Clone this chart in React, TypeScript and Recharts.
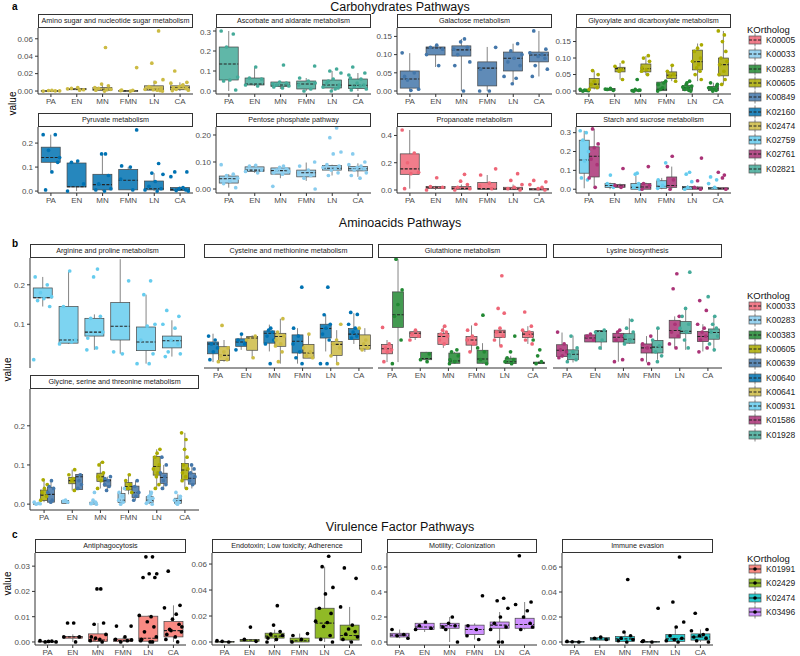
import React from "react";
import { ComposedChart, Bar, Scatter, XAxis, YAxis } from "recharts";

// box stats per group: [lower whisker, q1, median, q3, upper whisker]
const GROUPS = ["PA", "EN", "MN", "FMN", "LN", "CA"];

const PAL10 = ["#EE6677", "#88CCEE", "#228833", "#AAAA00", "#4477AA", "#0072B2", "#CCBB44", "#66CCEE", "#AA3377", "#44AA99"];
const PAL4 = ["#F8766D", "#7CAE00", "#00BFC4", "#C77CFF"];

const KO_A = ["K00005", "K00033", "K00283", "K00605", "K00849", "K02160", "K02474", "K02759", "K02761", "K02821"];
const KO_B = ["K00033", "K00283", "K00383", "K00605", "K00639", "K00640", "K00641", "K00931", "K01586", "K01928"];
const KO_C = ["K01991", "K02429", "K02474", "K03496"];

// ---- a: Carbohydrates ----
const aminoSugar_K02474 = [[0, 0, 0.0002, 0.0005, 0.001], [0.001, 0.0015, 0.002, 0.003, 0.004], [0, 0.0008, 0.002, 0.004, 0.008], [0, 0, 0.0002, 0.0006, 0.001], [0, 0.001, 0.002, 0.006, 0.012], [0, 0.0015, 0.004, 0.006, 0.01]];
const aminoSugarPts_K02474 = [[0, 0.0003, 0.0006, 0.0002, 0.0008], [0.004, 0.003, 0.0015, 0.0025, 0.001], [0.05, 0.008, 0.006, 0.003, 0.002, 0.001, 0, 0.004, 0.0015], [0.027, 0.001, 0, 0.0005, 0.0008], [0.069, 0.032, 0.013, 0.01, 0.005, 0.003, 0.002, 0.001, 0.0015, 0.0005, 0.004, 0], [0.023, 0.01, 0.009, 0.007, 0.005, 0.003, 0.002, 0.001, 0.004, 0.006, 0.0005]];

const ascorbate_K02821 = [[0, 0.055, 0.135, 0.22, 0.3], [0.025, 0.03, 0.035, 0.065, 0.115], [0.01, 0.022, 0.03, 0.045, 0.05], [0, 0.01, 0.035, 0.05, 0.065], [0, 0.015, 0.03, 0.055, 0.1], [0, 0.012, 0.028, 0.06, 0.09]];
const ascorbatePts_K02821 = [[0.3, 0.285, 0.22, 0.07, 0.055, 0.05, 0.005], [0.12, 0.065, 0.06, 0.03, 0.025], [0.13, 0.045, 0.04, 0.03, 0.025, 0.02, 0.015, 0.035], [0.125, 0.065, 0.05, 0.03, 0.01, 0, 0.04], [0.11, 0.1, 0.09, 0.06, 0.04, 0.03, 0.02, 0.01, 0, 0.015, 0.05], [0.12, 0.09, 0.08, 0.06, 0.04, 0.03, 0.02, 0.01, 0.005, 0.025, 0.065]];

const galactose_K00849 = [[0.002, 0.008, 0.033, 0.055, 0.104], [0.066, 0.099, 0.118, 0.121, 0.126], [0, 0.096, 0.113, 0.124, 0.143], [0, 0.014, 0.063, 0.08, 0.121], [0.02, 0.055, 0.09, 0.107, 0.13], [0.04, 0.08, 0.099, 0.107, 0.165]];
const galactosePts_K00849 = [[0.105, 0.05, 0.03, 0.005, 0.002, 0.04], [0.126, 0.12, 0.115, 0.1, 0.07], [0.143, 0.135, 0.12, 0.1, 0.08, 0.07, 0, 0.115], [0.12, 0.06, 0, 0], [0.13, 0.11, 0.1, 0.09, 0.08, 0.07, 0.04, 0.035, 0.02], [0.165, 0.115, 0.105, 0.1, 0.095, 0.09, 0.07, 0.06, 0.04]];

const glyoxylate_K00283 = [[0, 0, 0.0005, 0.002, 0.003], [0.001, 0.002, 0.005, 0.008, 0.009], [0, 0, 0.001, 0.004, 0.005], [0, 0.001, 0.005, 0.027, 0.03], [0, 0.002, 0.01, 0.017, 0.03], [0, 0.001, 0.007, 0.014, 0.025]];
const glyoxylatePts_K00283 = [[0.005, 0.002, 0, 0.001, 0.003], [0.008, 0.005, 0.002, 0.006], [0.035, 0.005, 0.002, 0, 0.003, 0.001], [0.03, 0.02, 0.01, 0, 0.025, 0.005], [0.03, 0.02, 0.015, 0.01, 0.005, 0, 0.012, 0.002, 0.025], [0.025, 0.015, 0.01, 0.005, 0, 0.002, 0.008, 0.02]];
const glyoxylate_K00605 = [[0.005, 0.009, 0.021, 0.038, 0.061], [0.035, 0.058, 0.068, 0.072, 0.085], [0.048, 0.058, 0.068, 0.082, 0.106], [0.03, 0.038, 0.048, 0.058, 0.079], [0.03, 0.064, 0.089, 0.124, 0.144], [0.02, 0.046, 0.08, 0.1, 0.182]];
const glyoxylatePts_K00605 = [[0.062, 0.05, 0.03, 0.02, 0.01, 0.005], [0.088, 0.075, 0.065, 0.06, 0.035], [0.107, 0.1, 0.09, 0.07, 0.065, 0.06, 0.05], [0.078, 0.06, 0.05, 0.045, 0.03], [0.14, 0.13, 0.12, 0.1, 0.09, 0.08, 0.07, 0.06, 0.05, 0.035], [0.182, 0.17, 0.15, 0.12, 0.1, 0.09, 0.08, 0.06, 0.05, 0.035, 0.02]];

const pyruvate_K02160 = [[0.085, 0.12, 0.14, 0.183, 0.235], [0, 0.017, 0.018, 0.117, 0.125], [0, 0.005, 0.027, 0.07, 0.157], [0.005, 0.005, 0.045, 0.09, 0.1], [0, 0.005, 0.01, 0.042, 0.075], [0, 0.002, 0.007, 0.015, 0.02]];
const pyruvatePts_K02160 = [[0.235, 0.235, 0.17, 0.14, 0.08, 0.005, 0.12], [0.125, 0.12, 0.03, 0], [0.155, 0.155, 0.065, 0.03, 0.01, 0.005, 0], [0.255, 0.105, 0.1, 0.05, 0.005], [0.115, 0.075, 0.07, 0.04, 0.02, 0.01, 0.005, 0], [0.08, 0.08, 0.06, 0.015, 0.01, 0.005, 0.002, 0]];

const pentose_K00033 = [[0.005, 0.022, 0.038, 0.048, 0.055], [0.06, 0.065, 0.07, 0.082, 0.088], [0.04, 0.055, 0.068, 0.078, 0.085], [0.03, 0.045, 0.06, 0.07, 0.098], [0.05, 0.07, 0.077, 0.087, 0.09], [0.045, 0.067, 0.075, 0.083, 0.095]];
const pentosePts_K00033 = [[0.09, 0.055, 0.05, 0.04, 0.03, 0.02, 0.005], [0.088, 0.085, 0.07, 0.065, 0.06], [0.085, 0.08, 0.075, 0.07, 0.065, 0.06, 0.055, 0.01], [0.1, 0.085, 0.07, 0.06, 0.05, 0.04, 0], [0.226, 0.19, 0.137, 0.13, 0.09, 0.085, 0.08, 0.075, 0.07, 0.06, 0.05], [0.13, 0.1, 0.09, 0.085, 0.08, 0.075, 0.07, 0.06, 0.05, 0.04]];

const propanoate_K00005 = [[0.01, 0.115, 0.155, 0.265, 0.44], [0, 0.01, 0.02, 0.025, 0.03], [0, 0.005, 0.012, 0.025, 0.04], [0, 0.005, 0.01, 0.055, 0.11], [0, 0.002, 0.008, 0.02, 0.04], [0, 0, 0.005, 0.01, 0.02]];
const propanoatePts_K00005 = [[0.44, 0.27, 0.2, 0.13, 0.12, 0.01], [0.09, 0.025, 0.02, 0], [0.115, 0.065, 0.04, 0.02, 0.01, 0], [0.155, 0.11, 0.05, 0.03, 0.01], [0.12, 0.07, 0.04, 0.02, 0.01, 0], [0.07, 0.06, 0.04, 0.02, 0.01, 0]];

const starch_K02759 = [[0.005, 0.085, 0.155, 0.26, 0.31], [0, 0.01, 0.02, 0.03, 0.035], [0, 0, 0.01, 0.03, 0.07], [0, 0.005, 0.015, 0.045, 0.06], [0, 0, 0.01, 0.015, 0.02], [0, 0, 0.005, 0.01, 0.015]];
const starchPts_K02759 = [[0.31, 0.3, 0.26, 0.2, 0.15, 0.06, 0.05], [0.075, 0.03, 0.01], [0.085, 0.08, 0.03, 0.01, 0], [0.14, 0.05, 0.02, 0.005], [0.09, 0.08, 0.04, 0.01, 0], [0.065, 0.05, 0.03, 0.01]];
const starch_K02761 = [[0.01, 0.065, 0.175, 0.225, 0.32], [0.005, 0.01, 0.018, 0.025, 0.03], [0, 0, 0.012, 0.03, 0.035], [0, 0.01, 0.02, 0.065, 0.12], [0, 0, 0.005, 0.012, 0.015], [0, 0, 0.003, 0.008, 0.01]];
const starchPts_K02761 = [[0.32, 0.24, 0.22, 0.16, 0.13, 0.06, 0.01], [0.11, 0.02, 0.01], [0.12, 0.03, 0.02, 0], [0.175, 0.12, 0.05, 0], [0.165, 0.045, 0.01, 0], [0.09, 0.075, 0.06, 0]];

// ---- b: Aminoacids ----
const arginine_K00931 = [[0.145, 0.167, 0.167, 0.192, 0.22], [0.05, 0.052, 0.06, 0.145, 0.233], [0.035, 0.07, 0.08, 0.115, 0.125], [0.025, 0.06, 0.095, 0.155, 0.265], [0, 0.033, 0.055, 0.093, 0.175], [0.018, 0.04, 0.058, 0.07, 0.11]];
const argininePts_K00931 = [[0.22, 0.2, 0.18, 0.17, 0.165, 0.16, 0.145, 0.01], [0.235, 0.145, 0.06, 0.05, 0.055], [0.24, 0.22, 0.12, 0.115, 0.08, 0.065, 0.04, 0.035], [0.21, 0.03, 0.025], [0.21, 0.175, 0.1, 0.095, 0.06, 0.025, 0, 0], [0.135, 0.12, 0.1, 0.09, 0.06, 0.05, 0.03, 0.025, 0.018]];

const cysteine_K00640 = [[0.004, 0.025, 0.05, 0.055, 0.076], [0.035, 0.044, 0.055, 0.063, 0.075], [0.031, 0.052, 0.077, 0.083, 0.099], [0, 0.027, 0.057, 0.073, 0.09], [0.031, 0.065, 0.089, 0.1, 0.124], [0.05, 0.061, 0.075, 0.089, 0.128]];
const cysteinePts_K00640 = [[0.07, 0.06, 0.05, 0.04, 0.03, 0.01], [0.075, 0.06, 0.05, 0.035], [0.09, 0.085, 0.08, 0.07, 0.06, 0.05, 0], [0.194, 0.09, 0.07, 0.05, 0.03, 0.015, 0], [0.194, 0.124, 0.1, 0.09, 0.075, 0.06, 0, 0], [0.13, 0.125, 0.1, 0.09, 0.08, 0.07, 0.065]];
const cysteine_K00641 = [[0.005, 0.008, 0.021, 0.043, 0.06], [0.014, 0.034, 0.065, 0.069, 0.072], [0, 0.044, 0.069, 0.077, 0.114], [0.014, 0.014, 0.027, 0.049, 0.073], [0, 0.021, 0.049, 0.056, 0.085], [0.03, 0.037, 0.046, 0.073, 0.09]];
const cysteinePts_K00641 = [[0.097, 0.04, 0.03, 0.02, 0.01, 0.005], [0.07, 0.06, 0.015], [0.114, 0.08, 0.07, 0.06, 0.05, 0.045, 0.03, 0.005], [0.075, 0.04, 0.03, 0.02, 0.015], [0.1, 0.06, 0.05, 0.04, 0.02, 0], [0.09, 0.06, 0.05, 0.04, 0.035]];

const glutathione_K00033 = [[0.004, 0.025, 0.038, 0.049, 0.06], [0.06, 0.066, 0.077, 0.081, 0.085], [0.04, 0.049, 0.069, 0.077, 0.097], [0.03, 0.047, 0.06, 0.069, 0.097], [0.045, 0.066, 0.08, 0.085, 0.09], [0.05, 0.066, 0.075, 0.081, 0.095]];
const glutathionePts_K00033 = [[0.092, 0.05, 0.04, 0.035, 0.03, 0.005], [0.085, 0.075, 0.07, 0.06], [0.095, 0.085, 0.08, 0.075, 0.07, 0.06, 0.05], [0.1, 0.085, 0.07, 0.06, 0.05, 0.03], [0.223, 0.14, 0.128, 0.09, 0.08, 0.07, 0.06, 0.045], [0.131, 0.095, 0.085, 0.08, 0.075, 0.07, 0.06, 0.05]];
const glutathione_K00383 = [[0.004, 0.092, 0.124, 0.182, 0.265], [0.005, 0.01, 0.013, 0.029, 0.03], [0, 0.001, 0.007, 0.027, 0.03], [0, 0.001, 0.012, 0.034, 0.052], [0, 0, 0.005, 0.014, 0.02], [0, 0, 0.002, 0.004, 0.006]];
const glutathionePts_K00383 = [[0.265, 0.187, 0.15, 0.12, 0.06, 0], [0.025, 0.01, 0.005], [0.035, 0.03, 0.02, 0.01, 0.005, 0], [0.123, 0.04, 0.03, 0.01, 0], [0.07, 0.03, 0.015, 0.01, 0.005, 0], [0.06, 0.035, 0.02, 0.005, 0]];

const lysine_K01586 = [[0.015, 0.018, 0.034, 0.048, 0.079], [0.055, 0.055, 0.065, 0.073, 0.075], [0.005, 0.055, 0.067, 0.077, 0.085], [0.003, 0.027, 0.04, 0.05, 0.07], [0.04, 0.065, 0.084, 0.11, 0.12], [0.031, 0.056, 0.069, 0.082, 0.1]];
const lysinePts_K01586 = [[0.08, 0.05, 0.035, 0.03, 0.02, 0.015], [0.075, 0.07, 0.06], [0.085, 0.08, 0.07, 0.06, 0.01, 0.005], [0.07, 0.05, 0.04, 0.01, 0], [0.228, 0.19, 0.12, 0.1, 0.08, 0.07, 0.05, 0.04], [0.16, 0.135, 0.1, 0.09, 0.08, 0.07, 0.06, 0.04, 0.03]];
const lysine_K01928 = [[0.003, 0.01, 0.024, 0.035, 0.071], [0.035, 0.055, 0.082, 0.084, 0.085], [0.05, 0.052, 0.062, 0.076, 0.115], [0.01, 0.027, 0.042, 0.059, 0.09], [0.035, 0.076, 0.082, 0.107, 0.136], [0.031, 0.062, 0.079, 0.088, 0.12]];
const lysinePts_K01928 = [[0.07, 0.04, 0.03, 0.02, 0.01, 0.005], [0.085, 0.08, 0.06, 0.04], [0.11, 0.09, 0.08, 0.07, 0.06, 0.05], [0.09, 0.06, 0.045, 0.03, 0.02, 0.005], [0.232, 0.14, 0.12, 0.1, 0.09, 0.08, 0.06, 0.04], [0.17, 0.12, 0.1, 0.09, 0.08, 0.07, 0.05, 0.035]];

const glycine_K00283 = [[0, 0, 0.001, 0.002, 0.003], [0.002, 0.002, 0.007, 0.009, 0.01], [0, 0, 0.002, 0.005, 0.008], [0, 0.004, 0.01, 0.027, 0.045], [0, 0.004, 0.01, 0.019, 0.035], [0, 0.002, 0.009, 0.015, 0.025]];
const glycinePts_K00283 = [[0.005, 0.002, 0, 0.001], [0.01, 0.008, 0.005], [0.03, 0.01, 0.005, 0.002, 0, 0.001], [0.04, 0.03, 0.02, 0.01, 0.005, 0], [0.03, 0.02, 0.015, 0.01, 0.005, 0, 0.002, 0.025], [0.03, 0.02, 0.01, 0.005, 0, 0.015, 0.002]];
const glycine_K00605 = [[0.005, 0.009, 0.023, 0.036, 0.063], [0.035, 0.052, 0.06, 0.068, 0.088], [0.04, 0.058, 0.07, 0.079, 0.108], [0.025, 0.036, 0.045, 0.055, 0.075], [0.04, 0.074, 0.096, 0.122, 0.14], [0.04, 0.062, 0.087, 0.104, 0.182]];
const glycinePts_K00605 = [[0.062, 0.05, 0.04, 0.03, 0.02, 0.01], [0.088, 0.075, 0.065, 0.06, 0.035], [0.107, 0.1, 0.08, 0.07, 0.06, 0.04], [0.075, 0.06, 0.05, 0.04, 0.03], [0.14, 0.13, 0.12, 0.1, 0.09, 0.08, 0.07, 0.05, 0.04], [0.182, 0.165, 0.14, 0.12, 0.1, 0.09, 0.08, 0.07, 0.06, 0.04]];
const glycine_K00639 = [[0.004, 0.005, 0.025, 0.043, 0.062], [0.037, 0.037, 0.07, 0.076, 0.078], [0.035, 0.046, 0.06, 0.063, 0.07], [0.01, 0.017, 0.029, 0.046, 0.06], [0.036, 0.053, 0.068, 0.079, 0.1], [0.04, 0.051, 0.066, 0.079, 0.1]];
const glycinePts_K00639 = [[0.06, 0.045, 0.04, 0.03, 0.01, 0.005], [0.075, 0.06, 0.05, 0.04], [0.07, 0.065, 0.06, 0.05, 0.045, 0.035], [0.06, 0.045, 0.03, 0.02, 0.01], [0.12, 0.1, 0.08, 0.07, 0.06, 0.05, 0.04], [0.1, 0.09, 0.08, 0.07, 0.06, 0.05]];

// ---- c: Virulence ----
const antiphago_K01991 = [[0, 0, 0.0001, 0.0003, 0.0005], [0, 0.0015, 0.002, 0.0022, 0.003], [0, 0.0002, 0.0008, 0.0032, 0.0075], [0, 0.0002, 0.0006, 0.0012, 0.002], [0, 0.0003, 0.0015, 0.0102, 0.0105], [0, 0.002, 0.0045, 0.0081, 0.0145]];
const antiphagoPts_K01991 = [[0.0005, 0.0003, 0, 0, 0.0002], [0.0075, 0.0075, 0.002, 0.002, 0], [0.021, 0.021, 0.0075, 0.007, 0.003, 0.002, 0.001, 0.0005, 0, 0.0015], [0.0063, 0.0063, 0.002, 0.001, 0.0005, 0, 0.0008], [0.0337, 0.0337, 0.027, 0.027, 0.0255, 0.0255, 0.0105, 0.01, 0.008, 0.006, 0.004, 0.002, 0.001, 0, 0.0005, 0], [0.028, 0.0145, 0.0135, 0.011, 0.009, 0.007, 0.005, 0.004, 0.003, 0.002, 0.001, 0, 0.0045, 0.006]];

const endotoxin_K02429 = [[0, 0, 0.0002, 0.0005, 0.001], [0.0005, 0.0005, 0.0015, 0.002, 0.0022], [0, 0.003, 0.0045, 0.0068, 0.0095], [0, 0, 0.001, 0.003, 0.0065], [0, 0.003, 0.0145, 0.026, 0.058], [0, 0.0015, 0.005, 0.013, 0.027]];
const endotoxinPts_K02429 = [[0.001, 0, 0.0005], [0.0115, 0.002, 0.0005], [0.028, 0.013, 0.008, 0.006, 0.005, 0.003, 0.002, 0], [0.0065, 0.005, 0.002, 0], [0.066, 0.058, 0.042, 0.037, 0.026, 0.022, 0.016, 0.015, 0.012, 0.005, 0.002, 0], [0.057, 0.049, 0.027, 0.013, 0.01, 0.008, 0.006, 0.004, 0.002, 0]];

const motility_K03496 = [[0.03, 0.04, 0.055, 0.07, 0.1], [0.08, 0.1, 0.12, 0.15, 0.16], [0, 0.11, 0.13, 0.15, 0.2], [0.02, 0.06, 0.1, 0.135, 0.15], [0, 0.11, 0.135, 0.16, 0.24], [0.1, 0.11, 0.14, 0.19, 0.32]];
const motilityPts_K03496 = [[0.1, 0.06, 0.05, 0.03], [0.16, 0.13, 0.11, 0.1], [0.2, 0.15, 0.13, 0.1, 0, 0.12], [0.37, 0.13, 0.1, 0.05, 0.02], [0.35, 0.33, 0.27, 0.2, 0.15, 0.12, 0.1, 0, 0], [0.69, 0.32, 0.3, 0.25, 0.2, 0.15, 0.1, 0.12]];

const immune_K02474 = [[0, 0, 0.0002, 0.0005, 0.001], [0.0015, 0.0015, 0.0025, 0.0035, 0.004], [0, 0.0005, 0.0025, 0.0045, 0.008], [0, 0, 0.0002, 0.0005, 0.001], [0, 0.0005, 0.0025, 0.006, 0.012], [0, 0.0015, 0.004, 0.0065, 0.01]];
const immunePts_K02474 = [[0.0005, 0, 0.0002], [0.004, 0.003, 0.002], [0.05, 0.008, 0.005, 0.003, 0.002, 0.001, 0], [0.027, 0.001, 0, 0.0005], [0.068, 0.032, 0.016, 0.012, 0.005, 0.003, 0.001, 0, 0.002], [0.023, 0.01, 0.009, 0.006, 0.005, 0.003, 0.001, 0, 0.004]];

const JIT = [-0.8, 0.45, -0.25, 0.9, 0.1, -0.55, 0.7, -0.95, 0.3, -0.1, 0.6, -0.4, 0.85, -0.7, 0.2];
const FONT = "'Liberation Sans', Arial, Helvetica, sans-serif";

const colA = (ko: string) => PAL10[KO_A.indexOf(ko)];
const colB = (ko: string) => PAL10[KO_B.indexOf(ko)];

function BoxShape(props: any) {
  const { x, y, width, height, st, color } = props;
  if (!st || x == null) return null;
  const [lo, q1, med, q3, hi] = st;
  const k = hi > lo ? height / (hi - lo) : 0;
  const py = (v: number) => y + (hi - v) * k;
  const cx = x + width / 2;
  const top = py(q3);
  const h = Math.max(py(q1) - top, 0.8);
  return (
    <g>
      <line x1={cx} x2={cx} y1={py(hi)} y2={py(q3)} stroke="#666" strokeWidth={0.8} />
      <line x1={cx} x2={cx} y1={py(q1)} y2={py(lo)} stroke="#666" strokeWidth={0.8} />
      <rect x={x} y={top} width={width} height={h} fill={color} fillOpacity={0.85} stroke="#444" strokeWidth={0.7} />
      <line x1={x} x2={x + width} y1={py(med)} y2={py(med)} stroke="#222" strokeWidth={1.1} strokeDasharray="3 1.5" />
    </g>
  );
}

function Facet(props: any) {
  const { title, left, top, width, plotH, series, domain, ticks, dec, showY = true, showX = true, dot } = props;
  const yW = showY ? 30 : 0;
  const xH = showX ? 14 : 0;
  const n = series.length;
  const slot = 0.75 / n;
  const rows = GROUPS.map((g, gi) => {
    const r: any = { grp: g };
    series.forEach((s: any) => {
      r[s.ko] = [s.box[gi][0], s.box[gi][4]];
      r[s.ko + "_st"] = s.box[gi];
    });
    return r;
  });
  const pts = series.map((s: any, k: number) =>
    s.pts.flatMap((vals: number[], gi: number) =>
      vals.map((v, j) => ({
        x: gi - 0.375 + slot * (k + 0.5) + JIT[(j + gi * 4 + k * 2) % JIT.length] * slot * 0.5,
        v,
      }))
    )
  );
  const axisStroke = "#333";
  return (
    <div style={{ position: "absolute", left: left - yW, top }}>
      <div
        style={{
          marginLeft: yW,
          width,
          height: 14,
          boxSizing: "border-box",
          border: "1px solid #333",
          background: "#fff",
          fontSize: 7.2,
          color: "#1a1a1a",
          textAlign: "center",
          lineHeight: "12px",
          whiteSpace: "nowrap",
          overflow: "hidden",
        }}
      >
        {title}
      </div>
      <div style={{ position: "relative", width: yW + width, height: plotH + xH }}>
        {/* boxes + axes */}
        <div style={{ position: "absolute", left: 0, top: 0 }}>
          <ComposedChart
            width={yW + width}
            height={plotH + xH}
            data={rows}
            margin={{ top: 0, right: 0, bottom: 0, left: 0 }}
            barCategoryGap="12.5%"
            barGap={0}
          >
            <XAxis
              xAxisId="cat"
              dataKey="grp"
              type="category"
              hide={!showX}
              height={14}
              interval={0}
              tickSize={3}
              tickMargin={1}
              tick={{ fontSize: 8, fill: "#4d4d4d", fontFamily: FONT }}
              tickLine={{ stroke: axisStroke }}
              axisLine={{ stroke: axisStroke }}
            />
            <YAxis
              type="number"
              domain={domain}
              ticks={ticks}
              allowDataOverflow
              hide={!showY}
              width={yW}
              tickSize={3}
              tickMargin={2}
              tick={{ fontSize: 8, fill: "#4d4d4d", fontFamily: FONT }}
              tickLine={{ stroke: axisStroke }}
              axisLine={{ stroke: axisStroke }}
              tickFormatter={(v: number) => v.toFixed(dec)}
            />
            {series.map((s: any) => (
              <Bar
                key={"b" + s.ko}
                xAxisId="cat"
                dataKey={s.ko}
                fill={s.color}
                isAnimationActive={false}
                shape={(p: any) => <BoxShape {...p} st={p.payload ? p.payload[s.ko + "_st"] : null} color={s.color} />}
              />
            ))}
          </ComposedChart>
        </div>
        {/* jittered points drawn on top */}
        <div style={{ position: "absolute", left: 0, top: 0 }}>
          <ComposedChart
            width={yW + width}
            height={plotH + xH}
            margin={{ top: 0, right: 0, bottom: xH, left: yW }}
          >
            <XAxis xAxisId="num" dataKey="x" type="number" domain={[-0.5, 5.5]} allowDataOverflow hide />
            <YAxis dataKey="v" type="number" domain={domain} allowDataOverflow hide />
            {series.map((s: any, k: number) => (
              <Scatter
                key={"s" + s.ko}
                xAxisId="num"
                data={pts[k]}
                dataKey="v"
                fill={dot || s.color}
                isAnimationActive={false}
                shape={(p: any) => <circle cx={p.cx} cy={p.cy} r={1.85} fill={dot || s.color} />}
              />
            ))}
          </ComposedChart>
        </div>
      </div>
    </div>
  );
}

function LegendBlock({ top, kos, colors, dot }: any) {
  return (
    <div style={{ position: "absolute", left: 747, top }}>
      <div style={{ fontSize: 9.5, color: "#111", height: 14, lineHeight: "12px" }}>KOrtholog</div>
      {kos.map((ko: string, i: number) => (
        <div key={ko} style={{ position: "absolute", top: 9 + i * 14.3, left: 0, height: 14, width: 60 }}>
          <svg width={14} height={14} style={{ position: "absolute", left: 1, top: 0 }}>
            <line x1={7} x2={7} y1={0.5} y2={13.5} stroke="#666" strokeWidth={0.8} />
            <rect x={1} y={3} width={12} height={8} fill={colors[i]} fillOpacity={0.85} stroke="#555" strokeWidth={0.7} />
            {dot ? (
              <>
                <line x1={1} x2={13} y1={7} y2={7} stroke="#222" strokeWidth={1} />
                <circle cx={7} cy={7} r={1.8} fill="#000" />
              </>
            ) : (
              <line x1={1} x2={13} y1={7} y2={7} stroke="#222" strokeWidth={1.1} strokeDasharray="3 1.5" />
            )}
          </svg>
          <span style={{ position: "absolute", left: 19, top: 1, fontSize: 8.5, color: "#222", lineHeight: "12px" }}>{ko}</span>
        </div>
      ))}
    </div>
  );
}

const txt = (s: any): any => ({ position: "absolute", whiteSpace: "nowrap", ...s });

export default function App() {
  return (
    <div style={{ position: "absolute", left: 0, top: 0, width: 800, height: 656, background: "#fff", fontFamily: FONT, overflow: "hidden" }}>
      {/* titles */}
      <div style={txt({ left: 0, width: 800, top: 0, textAlign: "center", fontSize: 12.5, color: "#111" })}>Carbohydrates Pathways</div>
      <div style={txt({ left: 0, width: 800, top: 216, textAlign: "center", fontSize: 12.5, color: "#111" })}>Aminoacids Pathways</div>
      <div style={txt({ left: 0, width: 800, top: 520, textAlign: "center", fontSize: 12.5, color: "#111" })}>Virulence Factor Pathways</div>
      <div style={txt({ left: 12, top: 1, fontSize: 10, fontWeight: 700 })}>a</div>
      <div style={txt({ left: 12, top: 238, fontSize: 10, fontWeight: 700 })}>b</div>
      <div style={txt({ left: 12, top: 529, fontSize: 10, fontWeight: 700 })}>c</div>
      <div style={txt({ left: 1, top: 98, fontSize: 10, transform: "rotate(-90deg)" })}>value</div>
      <div style={txt({ left: -4, top: 364, fontSize: 10, transform: "rotate(-90deg)" })}>value</div>
      <div style={txt({ left: -4, top: 578, fontSize: 10, transform: "rotate(-90deg)" })}>value</div>

      {/* panel a */}
      <Facet title="Amino sugar and nucleotide sugar metabolism" left={38} top={14} width={155} plotH={66}
        domain={[-0.0034, 0.0724]} ticks={[0, 0.02, 0.04, 0.06]} dec={2}
        series={[{ ko: "K02474", color: colA("K02474"), box: aminoSugar_K02474, pts: aminoSugarPts_K02474 }]} />
      <Facet title="Ascorbate and aldarate metabolism" left={216} top={14} width={155} plotH={66}
        domain={[-0.015, 0.315]} ticks={[0, 0.1, 0.2, 0.3]} dec={1}
        series={[{ ko: "K02821", color: colA("K02821"), box: ascorbate_K02821, pts: ascorbatePts_K02821 }]} />
      <Facet title="Galactose metabolism" left={397} top={14} width={155} plotH={66}
        domain={[-0.0082, 0.1731]} ticks={[0, 0.05, 0.1, 0.15]} dec={2}
        series={[{ ko: "K00849", color: colA("K00849"), box: galactose_K00849, pts: galactosePts_K00849 }]} />
      <Facet title="Glyoxylate and dicarboxylate metabolism" left={576} top={14} width={155} plotH={66}
        domain={[-0.009, 0.191]} ticks={[0, 0.05, 0.1, 0.15]} dec={2}
        series={[
          { ko: "K00283", color: colA("K00283"), box: glyoxylate_K00283, pts: glyoxylatePts_K00283 },
          { ko: "K00605", color: colA("K00605"), box: glyoxylate_K00605, pts: glyoxylatePts_K00605 },
        ]} />
      <Facet title="Pyruvate metabolism" left={38} top={113} width={155} plotH={66}
        domain={[-0.008, 0.267]} ticks={[0, 0.1, 0.2]} dec={1}
        series={[{ ko: "K02160", color: colA("K02160"), box: pyruvate_K02160, pts: pyruvatePts_K02160 }]} />
      <Facet title="Pentose phosphate pathway" left={216} top={113} width={155} plotH={66}
        domain={[-0.0148, 0.2296]} ticks={[0, 0.05, 0.1, 0.15, 0.2]} dec={2}
        series={[{ ko: "K00033", color: colA("K00033"), box: pentose_K00033, pts: pentosePts_K00033 }]} />
      <Facet title="Propanoate metabolism" left={397} top={113} width={155} plotH={66}
        domain={[-0.022, 0.462]} ticks={[0, 0.1, 0.2, 0.3, 0.4]} dec={1}
        series={[{ ko: "K00005", color: colA("K00005"), box: propanoate_K00005, pts: propanoatePts_K00005 }]} />
      <Facet title="Starch and sucrose metabolism" left={576} top={113} width={155} plotH={66}
        domain={[-0.02, 0.33]} ticks={[0, 0.1, 0.2, 0.3]} dec={1}
        series={[
          { ko: "K02759", color: colA("K02759"), box: starch_K02759, pts: starchPts_K02759 },
          { ko: "K02761", color: colA("K02761"), box: starch_K02761, pts: starchPts_K02761 },
        ]} />
      <LegendBlock top={24} kos={KO_A} colors={PAL10} />

      {/* panel b */}
      <Facet title="Arginine and proline metabolism" left={30} top={244} width={155} plotH={110} showX={false}
        domain={[-0.011, 0.268]} ticks={[0, 0.1, 0.2]} dec={1}
        series={[{ ko: "K00931", color: colB("K00931"), box: arginine_K00931, pts: argininePts_K00931 }]} />
      <Facet title="Cysteine and methionine metabolism" left={204} top={244} width={169} plotH={110} showY={false}
        domain={[-0.011, 0.268]} ticks={[0, 0.1, 0.2]} dec={1}
        series={[
          { ko: "K00640", color: colB("K00640"), box: cysteine_K00640, pts: cysteinePts_K00640 },
          { ko: "K00641", color: colB("K00641"), box: cysteine_K00641, pts: cysteinePts_K00641 },
        ]} />
      <Facet title="Glutathione metabolism" left={378} top={244} width={169} plotH={110} showY={false}
        domain={[-0.011, 0.268]} ticks={[0, 0.1, 0.2]} dec={1}
        series={[
          { ko: "K00033", color: colB("K00033"), box: glutathione_K00033, pts: glutathionePts_K00033 },
          { ko: "K00383", color: colB("K00383"), box: glutathione_K00383, pts: glutathionePts_K00383 },
        ]} />
      <Facet title="Lysine biosynthesis" left={553} top={244} width={169} plotH={110} showY={false}
        domain={[-0.011, 0.268]} ticks={[0, 0.1, 0.2]} dec={1}
        series={[
          { ko: "K01586", color: colB("K01586"), box: lysine_K01586, pts: lysinePts_K01586 },
          { ko: "K01928", color: colB("K01928"), box: lysine_K01928, pts: lysinePts_K01928 },
        ]} />
      <Facet title="Glycine, serine and threonine metabolism" left={30} top={375} width={169} plotH={121}
        domain={[-0.015, 0.294]} ticks={[0, 0.1, 0.2]} dec={1}
        series={[
          { ko: "K00283", color: colB("K00283"), box: glycine_K00283, pts: glycinePts_K00283 },
          { ko: "K00605", color: colB("K00605"), box: glycine_K00605, pts: glycinePts_K00605 },
          { ko: "K00639", color: colB("K00639"), box: glycine_K00639, pts: glycinePts_K00639 },
        ]} />
      <LegendBlock top={290} kos={KO_B} colors={PAL10} />

      {/* panel c */}
      <Facet title="Antiphagocytosis" left={35} top={539} width={151} plotH={92} dot="#000"
        domain={[-0.0012, 0.0352]} ticks={[0, 0.01, 0.02, 0.03]} dec={2}
        series={[{ ko: "K01991", color: PAL4[0], box: antiphago_K01991, pts: antiphagoPts_K01991 }]} />
      <Facet title="Endotoxin; Low toxicity; Adherence" left={212} top={539} width={150} plotH={92} dot="#000"
        domain={[-0.0023, 0.0685]} ticks={[0, 0.02, 0.04, 0.06]} dec={2}
        series={[{ ko: "K02429", color: PAL4[1], box: endotoxin_K02429, pts: endotoxinPts_K02429 }]} />
      <Facet title="Motility; Colonization" left={387} top={539} width={150} plotH={92} dot="#000"
        domain={[-0.024, 0.712]} ticks={[0, 0.2, 0.4, 0.6]} dec={1}
        series={[{ ko: "K03496", color: PAL4[3], box: motility_K03496, pts: motilityPts_K03496 }]} />
      <Facet title="Immune evasion" left={562} top={539} width={151} plotH={92} dot="#000"
        domain={[-0.0024, 0.0712]} ticks={[0, 0.02, 0.04, 0.06]} dec={2}
        series={[{ ko: "K02474", color: PAL4[2], box: immune_K02474, pts: immunePts_K02474 }]} />
      <LegendBlock top={553} kos={KO_C} colors={PAL4} dot />
    </div>
  );
}
